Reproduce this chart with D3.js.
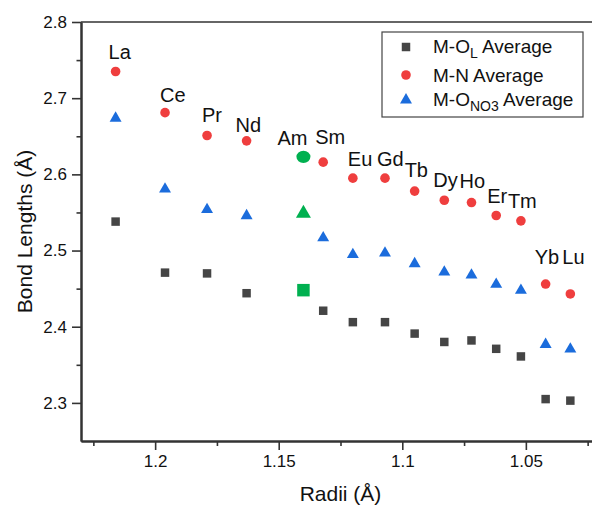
<!DOCTYPE html>
<html>
<head>
<meta charset="utf-8">
<script src="https://cdn.jsdelivr.net/npm/d3@7"></script>
<style>
  body { margin: 0; background: #fff; }
  text { font-family: "Liberation Sans", Arial, sans-serif; fill: #111; }
</style>
</head>
<body>
<main></main>
<script>
// lanthanide data (radii in Å, bond lengths in Å)
const elements = ['La', 'Ce', 'Pr', 'Nd', 'Sm', 'Eu', 'Gd', 'Tb', 'Dy', 'Ho', 'Er', 'Tm', 'Yb', 'Lu'];
const radii = [1.216, 1.196, 1.179, 1.163, 1.132, 1.120, 1.107, 1.095, 1.083, 1.072, 1.062, 1.052, 1.042, 1.032];
const mOL = [2.538, 2.471, 2.470, 2.444, 2.421, 2.406, 2.406, 2.391, 2.380, 2.382, 2.371, 2.361, 2.305, 2.303];
const mN = [2.735, 2.681, 2.651, 2.644, 2.616, 2.595, 2.595, 2.578, 2.566, 2.563, 2.546, 2.539, 2.456, 2.443];
const mONO3 = [2.675, 2.582, 2.555, 2.547, 2.518, 2.496, 2.498, 2.484, 2.473, 2.469, 2.457, 2.449, 2.378, 2.372];

// americium
const amLabel = 'Am';
const amRadius = 1.140;
const amOL = 2.448;
const amN = 2.623;
const amONO3 = 2.550;

const xTicks = [1.2, 1.15, 1.1, 1.05];
const xMinor = [1.225, 1.175, 1.125, 1.075, 1.025];
const yTicks = [2.3, 2.4, 2.5, 2.6, 2.7, 2.8];
const yMinor = [2.35, 2.45, 2.55, 2.65, 2.75];

const W = 592, H = 506;
const mLeft = 81, mTop = 22, mRight = 600, mBottom = 441;

const red = '#ef3e3e', blue = '#1b6cdc', grey = '#454545', green = '#00b050';

// label offsets from each red point (text start, baseline)
const labelOffset = {
  La: [-7, -13], Ce: [-5, -11], Pr: [-5, -14], Nd: [-11, -9], Sm: [-8, -18],
  Eu: [-5, -12], Gd: [-8, -12], Tb: [-10, -14], Dy: [-11, -13], Ho: [-12, -15],
  Er: [-9, -13], Tm: [-13, -13], Yb: [-11, -20], Lu: [-8, -30], Am: [-26, -12]
};

const x = d3.scaleLinear().domain([1.23, 1.02]).range([mLeft, mRight]);
const y = d3.scaleLinear().domain([2.25, 2.8]).range([mBottom, mTop]);

const svg = d3.select('main').append('svg')
  .attr('width', W)
  .attr('height', H);

// axes
const styleAxis = g => {
  g.select('.domain').attr('stroke', '#333').attr('stroke-width', 2);
  g.selectAll('.tick line').attr('stroke', '#333').attr('stroke-width', 1.6);
  g.selectAll('.tick text').attr('font-size', 17).attr('fill', '#111')
    .attr('font-family', '"Liberation Sans", Arial, sans-serif');
};

svg.append('g')
  .attr('transform', `translate(0,${mBottom})`)
  .call(d3.axisBottom(x).tickValues(xMinor).tickSize(5).tickSizeOuter(0).tickFormat(''))
  .call(styleAxis);
svg.append('g')
  .attr('transform', `translate(0,${mBottom})`)
  .call(d3.axisBottom(x).tickValues(xTicks).tickSize(9).tickSizeOuter(0).tickPadding(5).tickFormat(d => String(d)))
  .call(styleAxis);

svg.append('g')
  .attr('transform', `translate(${mLeft},0)`)
  .call(d3.axisLeft(y).tickValues(yMinor).tickSize(4.5).tickSizeOuter(0).tickFormat(''))
  .call(styleAxis);
svg.append('g')
  .attr('transform', `translate(${mLeft},0)`)
  .call(d3.axisLeft(y).tickValues(yTicks).tickSize(9).tickSizeOuter(0).tickPadding(5).tickFormat(d3.format('.1f')))
  .call(styleAxis);

// top frame line
svg.append('line')
  .attr('x1', mLeft).attr('x2', mRight)
  .attr('y1', mTop).attr('y2', mTop)
  .attr('stroke', '#333').attr('stroke-width', 1.4);

// axis titles
svg.append('text')
  .attr('x', (mLeft + mRight) / 2)
  .attr('y', 501)
  .attr('text-anchor', 'middle')
  .attr('font-size', 21)
  .text('Radii (Å)');

svg.append('text')
  .attr('transform', `translate(32,${(mTop + mBottom) / 2}) rotate(-90)`)
  .attr('text-anchor', 'middle')
  .attr('font-size', 21)
  .text('Bond Lengths (Å)');

// markers
const sq = d3.symbol().type(d3.symbolSquare).size(72)();
const tri = d3.symbol().type(d3.symbolTriangle).size(62)();

svg.append('g').selectAll('path')
  .data(radii)
  .enter()
  .append('path')
  .attr('d', sq)
  .attr('fill', grey)
  .attr('transform', (d, i) => `translate(${x(d)},${y(mOL[i])})`);

svg.append('g').selectAll('circle')
  .data(radii)
  .enter()
  .append('circle')
  .attr('r', 4.8)
  .attr('fill', red)
  .attr('cx', d => x(d))
  .attr('cy', (d, i) => y(mN[i]));

svg.append('g').selectAll('path')
  .data(radii)
  .enter()
  .append('path')
  .attr('d', tri)
  .attr('fill', blue)
  .attr('transform', (d, i) => `translate(${x(d)},${y(mONO3[i]) + 1})`);

// Am in green, a bit bigger
svg.append('path')
  .attr('d', d3.symbol().type(d3.symbolSquare).size(156)())
  .attr('fill', green)
  .attr('transform', `translate(${x(amRadius)},${y(amOL)})`);
svg.append('ellipse')
  .attr('cx', x(amRadius)).attr('cy', y(amN))
  .attr('rx', 7).attr('ry', 6.2)
  .attr('fill', green);
svg.append('path')
  .attr('d', d3.symbol().type(d3.symbolTriangle).size(97)())
  .attr('fill', green)
  .attr('transform', `translate(${x(amRadius)},${y(amONO3) + 1})`);

// element labels
const labels = elements.map((e, i) => ({ name: e, r: radii[i], v: mN[i] }))
  .concat([{ name: amLabel, r: amRadius, v: amN }]);

svg.append('g').selectAll('text')
  .data(labels)
  .enter()
  .append('text')
  .attr('font-size', 20)
  .attr('x', d => x(d.r) + labelOffset[d.name][0])
  .attr('y', d => y(d.v) + labelOffset[d.name][1])
  .text(d => d.name);

// legend
const legend = svg.append('g');
legend.append('rect')
  .attr('x', 382).attr('y', 32)
  .attr('width', 201).attr('height', 85)
  .attr('fill', '#fff')
  .attr('stroke', '#444').attr('stroke-width', 1.2);

const lx = 406, tx = 433;
legend.append('path').attr('d', sq).attr('fill', grey)
  .attr('transform', `translate(${lx},47)`);
legend.append('circle').attr('cx', lx).attr('cy', 75).attr('r', 4.8).attr('fill', red);
legend.append('path').attr('d', tri).attr('fill', blue)
  .attr('transform', `translate(${lx},100)`);

const t1 = legend.append('text').attr('x', tx).attr('y', 53).attr('font-size', 19);
t1.append('tspan').text('M-O');
t1.append('tspan').attr('font-size', 14).attr('dy', 5).text('L');
t1.append('tspan').attr('dy', -5).text(' Average');

legend.append('text').attr('x', tx).attr('y', 82).attr('font-size', 19).text('M-N Average');

const t3 = legend.append('text').attr('x', tx).attr('y', 106).attr('font-size', 19);
t3.append('tspan').text('M-O');
t3.append('tspan').attr('font-size', 14).attr('dy', 5).text('NO3');
t3.append('tspan').attr('dy', -5).text(' Average');
</script>
</body>
</html>
